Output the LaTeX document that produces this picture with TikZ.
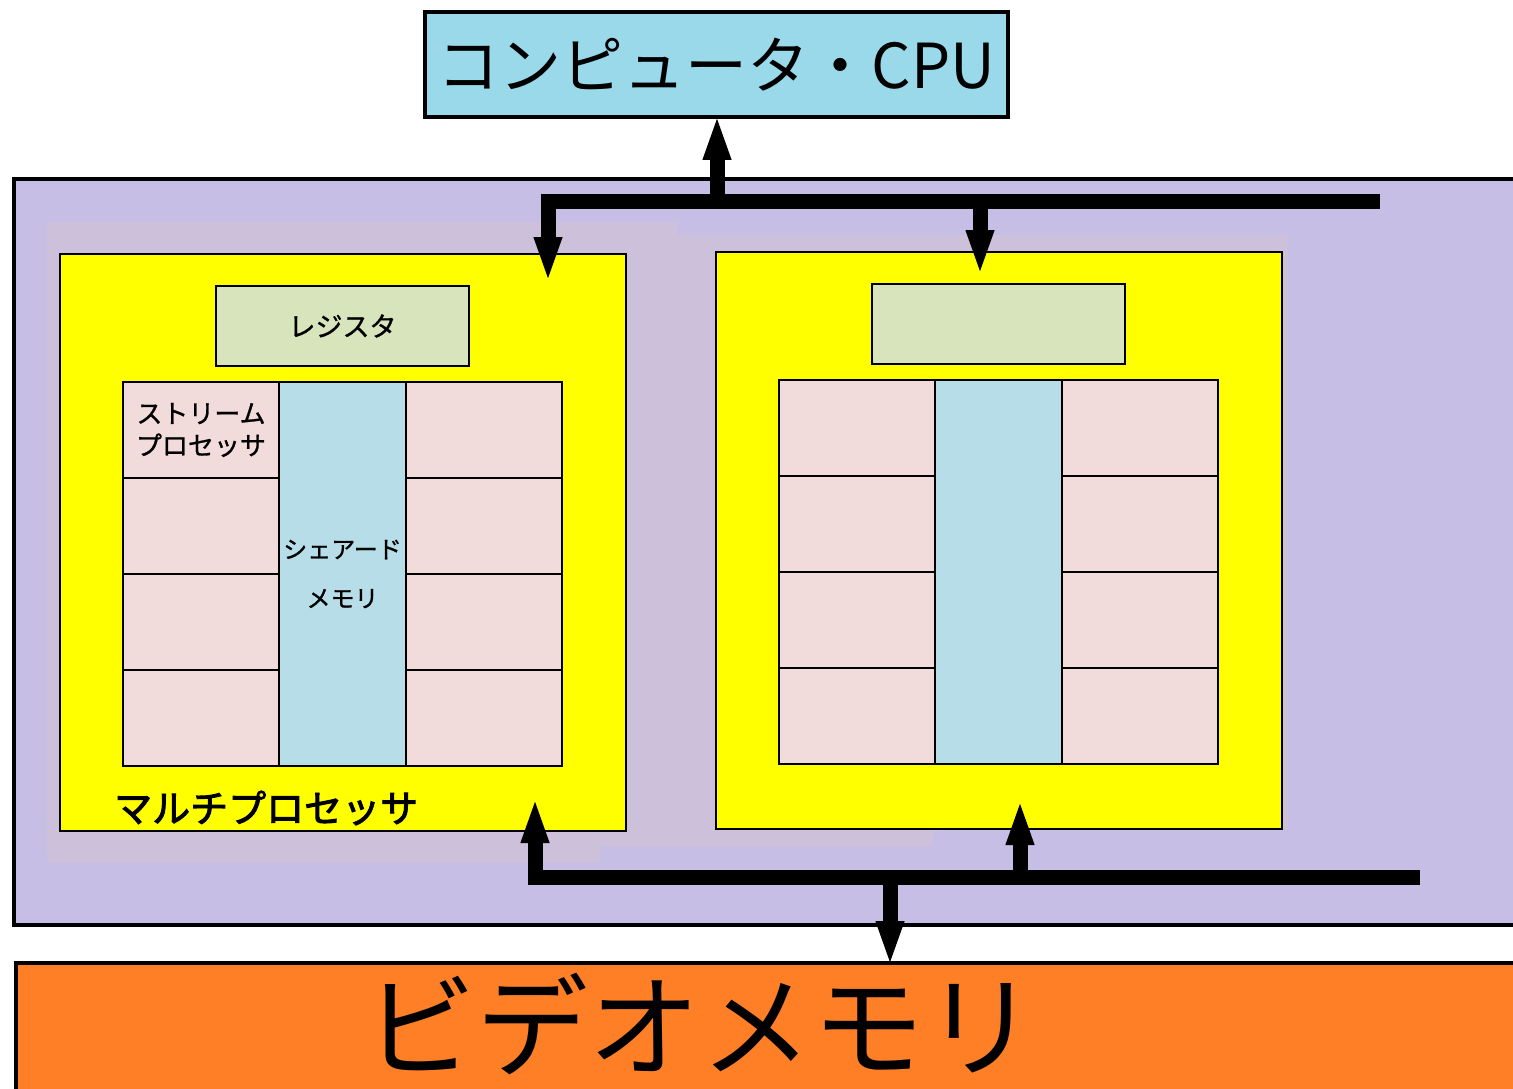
\documentclass[tikz,border=0pt]{standalone}
\usepackage{fontspec}
\setmainfont{Noto Sans CJK JP}
\newfontfamily\jpmid[FakeBold=1]{Noto Sans CJK JP}
\newfontfamily\jpheavy[FakeBold=2.5]{Noto Sans CJK JP}
\usetikzlibrary{arrows.meta}

\definecolor{cpublue}{RGB}{153,217,234}
\definecolor{boardpurple}{RGB}{198,190,228}
\definecolor{boardpink}{RGB}{205,192,218}
\definecolor{mpyellow}{RGB}{255,255,0}
\definecolor{reggreen}{RGB}{216,228,188}
\definecolor{sppink}{RGB}{242,220,219}
\definecolor{smblue}{RGB}{183,222,232}
\definecolor{vramorange}{RGB}{255,127,39}

\newcommand{\jpsize}[1]{\fontsize{#1}{#1}\selectfont}

\begin{document}
\begin{tikzpicture}[x=1pt,y=-1pt]
\tikzset{box/.style={draw=black,anchor=north west,inner sep=0,outer sep=0},
  mpbox/.style={box,line width=2pt,fill=mpyellow,minimum width=566pt,minimum height=577pt},
  regbox/.style={box,line width=1.5pt,fill=reggreen,minimum width=253pt,minimum height=80pt},
  spbox/.style={box,line width=1.2pt,fill=sppink,minimum width=156pt,minimum height=96pt},
  smbox/.style={box,line width=1.2pt,fill=smblue,minimum width=127pt,minimum height=384pt},
  lbl/.style={inner sep=0},
  bus/.style={line width=15pt,line join=miter,-{Triangle[length=46pt,width=25pt]}}}
    \path[use as bounding box] (0,0) rectangle (1513,1089);
    \clip (0,0) rectangle (1513,1089);

    % graphics board
    \node[box,line width=4pt,fill=boardpurple,minimum width=1530pt,minimum height=746pt] (board) at (14,179) {};
    \fill[boardpink] (47,222) -- (678,222) -- (678,235) -- (1288,235) -- (1288,829) -- (933,829)
        -- (933,846) -- (600,846) -- (600,862) -- (47,862) -- cycle;

    % two multiprocessors
    \foreach \k/\dx/\dy in {1/0/0,2/656/-2}{
      \begin{scope}[shift={(\dx,\dy)}]
        \node[mpbox] (mp\k) at (60,254) {};
        \node[regbox] (reg\k) at (216,286) {};
        \node[smbox] (sm\k) at (279,382) {};
        \foreach \r in {0,...,3}{
          \node[spbox] (spl\k\r) at (123,{382+96*\r}) {};
          \node[spbox] (spr\k\r) at (406,{382+96*\r}) {};
        }
      \end{scope}
    }
    \node[lbl,font=\jpmid\jpsize{27}] (regtxt) at (reg1.center) {レジスタ};
    \node[lbl,align=center,font=\jpmid\fontsize{26}{32}\selectfont] (sptxt) at (spl10.center) {ストリーム\\プロセッサ};
    \node[lbl,align=center,font=\jpmid\fontsize{24}{49}\selectfont] (smtxt) at (sm1.center) {シェアード\\メモリ};
    \node[lbl,anchor=west,font=\jpheavy\jpsize{38}] (mptxt) at (114,808) {マルチプロセッサ};

    % host and video memory
    \node[box,line width=4pt,fill=cpublue,minimum width=583pt,minimum height=105pt] (cpu) at (425,12) {\jpsize{62}コンピュータ・CPU};
    \node[box,line width=4pt,fill=vramorange,minimum width=1530pt,minimum height=160pt] (vram) at (16,963) {};
    \node[lbl,font=\jpsize{112}] (vramtxt) at (700,1024) {ビデオメモリ};

    % buses
    \coordinate (tbR) at (1380,201);
    \coordinate (tbL) at (548,201);
    \coordinate (tbC) at (717,201);
    \coordinate (tbB) at (980,201);
    \coordinate (tipA) at (548,283);
    \coordinate (tipB) at (980,276);
    \coordinate (tipC) at (717,114);
    \coordinate (bbR) at (1420,877);
    \coordinate (bbL) at (535,877);
    \coordinate (bbB) at (1020,877);
    \coordinate (bbC) at (890,877);
    \coordinate (upA) at (535,797);
    \coordinate (upB) at (1020,799);
    \coordinate (tipV) at (890,967);
    \draw[bus] (tbR) -- (tbL) -- (tipA);
    \draw[bus] (tbB) -- (tipB);
    \draw[bus] (tbC) -- (tipC);
    \draw[bus] (bbR) -- (bbL) -- (upA);
    \draw[bus] (bbB) -- (upB);
    \draw[bus] (bbC) -- (tipV);
\end{tikzpicture}
\end{document}
